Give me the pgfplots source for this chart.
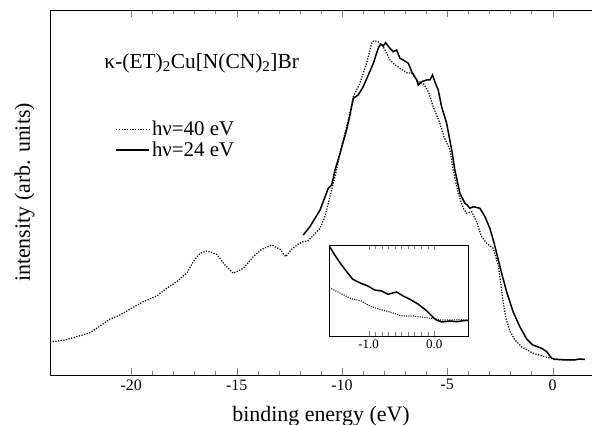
\documentclass[border=0pt]{standalone}
\usepackage{fontspec}
\setmainfont{Liberation Serif}
\usepackage{pgfplots}
\pgfplotsset{compat=1.18}

% spectra: binding energy (eV) vs intensity (arb. units)
\pgfplotstableread{
E I
-23.86 33
-23.14 35
-22.59 38.3
-21.96 42.3
-21.49 49
-21.01 56
-20.54 60
-19.91 67.7
-19.43 73.3
-18.79 79
-18.32 86.7
-17.85 93.3
-17.37 101.7
-17.06 113.3
-16.74 121.7
-16.42 124
-15.95 120.7
-15.55 110
-15.16 101.7
-14.68 106.7
-14.21 118.3
-13.81 125.7
-13.34 130
-12.94 125.7
-12.67 118.3
-12.39 125.7
-12.07 131
-11.84 133.3
-11.60 134.3
-11.04 146.7
-10.81 158.3
-10.49 185
-10.33 198.3
-10.09 221.7
-9.86 241.7
-9.70 255
-9.46 278.3
-9.15 291.7
-8.83 311.7
-8.59 331.7
-8.48 334.3
-8.28 333.3
-8.04 328.3
-7.72 315
-7.57 311.7
-7.25 306.7
-6.93 302.3
-6.69 301.7
-6.38 293.3
-6.14 291.7
-5.90 283.3
-5.67 268.3
-5.35 251.7
-5.16 238.3
-4.87 225
-4.72 205
-4.48 181.7
-4.24 166.7
-4.08 161.7
-3.84 163.3
-3.61 153.3
-3.37 138.3
-3.13 131.7
-2.82 126.7
-2.58 110
-2.45 90
-2.36 75
-2.22 57
-2.03 44
-1.79 35
-1.46 28
-0.92 21.7
-0.28 17.7
0.03 16
0.50 15.3
0.98 15
1.25 15.8
1.53 15.7
}\lowphoton

\pgfplotstableread{
E I
-11.84 140
-11.52 148.3
-11.28 156.7
-11.04 165
-10.89 173.3
-10.65 186.7
-10.49 190
-10.33 205
-10.09 221.7
-9.94 233.3
-9.78 245
-9.62 260
-9.46 276.7
-9.23 280
-8.99 288.3
-8.75 300
-8.51 311.7
-8.28 326.7
-8.16 331
-8.04 329
-7.93 332.3
-7.72 326.7
-7.57 323.3
-7.40 325
-7.25 316.7
-7.09 315
-6.85 311.7
-6.69 303.3
-6.45 295
-6.38 290
-6.22 293.3
-5.98 295
-5.82 295
-5.70 300
-5.59 293.3
-5.43 285
-5.27 268.3
-5.03 251.7
-4.79 225
-4.64 205
-4.40 181.7
-4.16 171.7
-4.05 170
-3.93 166.7
-3.77 168.3
-3.45 166.7
-3.21 158.3
-2.98 146.7
-2.79 133
-2.60 117
-2.41 101
-2.18 83
-1.87 63
-1.55 48
-1.23 36
-0.94 30
-0.52 26.7
-0.28 23.3
-0.05 17
0.11 15.7
0.50 15.2
0.98 15
1.25 15.8
1.53 15.7
}\highphoton

% inset: region near the Fermi level
\pgfplotstableread{
E I
-1.600 48.3
-1.446 43.3
-1.266 37.3
-1.112 35
-0.985 30
-0.831 26.7
-0.677 24
-0.523 20.7
-0.446 20
-0.318 20
-0.165 18.7
-0.011 17.3
0.092 16
0.246 16
0.400 16.3
0.518 16
}\insetlow

\pgfplotstableread{
E I
-1.600 90
-1.523 81.7
-1.446 74
-1.343 65
-1.242 56.7
-1.138 53.3
-1.011 50
-0.908 46
-0.805 45
-0.703 41.7
-0.651 42.7
-0.574 44
-0.472 40
-0.369 36.7
-0.242 31.7
-0.112 25
-0.011 18.3
0.042 15.7
0.118 14
0.246 15
0.349 14.3
0.430 15.2
0.518 15.7
}\insethigh

\begin{document}
\begin{tikzpicture}
\useasboundingbox (-50bp,-50bp) rectangle (542bp,375bp);
\begin{axis}[
    scale only axis,
    width=542bp, height=365bp,
    xmin=-23.86, xmax=1.87,
    ymin=0, ymax=365,
    axis x line=box, axis y line=left,
    axis line style={-, line width=0.8pt},
    xtick={-20,-15,-10,-5,0},
    minor x tick num=4,
    xtick pos=both,
    tick align=inside,
    major tick length=7bp, minor tick length=4bp,
    ytick=\empty,
    /pgf/number format/assume math mode=true,
    tick label style={font=\fontsize{16}{17}\selectfont},
    xticklabel style={yshift=-1bp},
    xlabel={binding energy (eV)},
    xlabel style={font=\fontsize{22}{24}\selectfont, at={(axis description cs:0.5,0)}, anchor=base, yshift=-46bp},
    ylabel={intensity (arb. units)},
    ylabel style={font=\fontsize{22}{24}\selectfont, at={(axis description cs:0,0.5)}, anchor=base, yshift=20bp},
    legend style={draw=none, fill=none, at={(axis description cs:0.115,0.707)}, anchor=north west,
        font=\fontsize{21}{23}\selectfont, row sep=1bp},
    legend cell align=left,
    legend image code/.code={\draw[#1] (0bp,0bp) -- (26bp,0bp); \path (0bp,0bp) -- (33bp,0bp);},
]
\addplot[black, line width=1.25pt, dash pattern=on 1.2pt off 1.5pt] table[x=E, y=I] {\lowphoton};
\addlegendentry{hν=40 eV}
\addplot[black, line width=1.5pt] table[x=E, y=I] {\highphoton};
\addlegendentry{hν=24 eV}
\node[anchor=base west, font=\fontsize{21.5}{24}\selectfont] at (rel axis cs:0.094,0.841)
    {κ-(ET)\textsubscript{2}Cu[N(CN)\textsubscript{2}]Br};
\end{axis}

\begin{axis}[
    at={(279.3bp,39bp)}, anchor=south west,
    scale only axis,
    width=139bp, height=90.3bp,
    xmin=-1.6, xmax=0.52,
    ymin=0, ymax=90.3,
    axis line style={line width=0.8pt},
    axis background/.style={fill=white},
    xtick={-1,0},
    minor x tick num=9,
    xtick pos=both,
    tick align=inside,
    major tick length=4.5bp, minor tick length=3.5bp,
    ytick=\empty,
    /pgf/number format/.cd, fixed, fixed zerofill, precision=1, assume math mode=true,
    /pgfplots/.cd,
    tick label style={font=\fontsize{13}{14}\selectfont},
]
\addplot[black, line width=1.1pt, dash pattern=on 1pt off 1.3pt] table[x=E, y=I] {\insetlow};
\addplot[black, line width=1.5pt] table[x=E, y=I] {\insethigh};
\end{axis}
\end{tikzpicture}
\end{document}
